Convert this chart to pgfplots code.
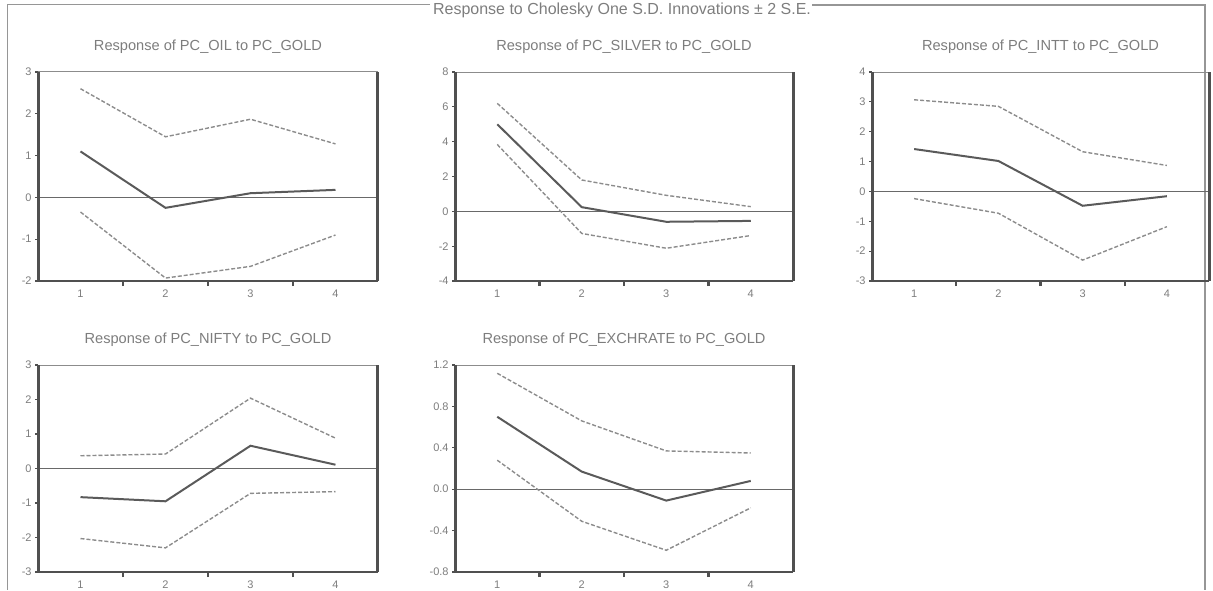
\documentclass[border=0pt]{standalone}
\usepackage{fontspec}
\setmainfont{Liberation Sans}
\usepackage{pgfplots}
\pgfplotsset{compat=1.18}

\definecolor{txtgray}{RGB}{125,125,125}
\definecolor{spine}{RGB}{80,80,80}
\definecolor{topline}{RGB}{140,140,140}
\definecolor{irfline}{RGB}{90,90,90}
\definecolor{bandline}{RGB}{140,140,140}
\definecolor{zeroline}{RGB}{105,105,105}
\definecolor{framegray}{RGB}{150,150,150}

\pgfplotsset{
  irf/.style={
    scale only axis,
    xmin=0.5, xmax=4.5,
    xtick={1,2,3,4},
    minor xtick={1.5,2.5,3.5},
    axis line style={draw=none},
    ytick pos=left, xtick pos=bottom,
    tick align=outside,
    major tick length=1.5pt,
    minor tick length=2.5pt,
    major x tick style={draw=none},
    major y tick style={draw=spine, line width=0.6pt},
    minor x tick style={draw=spine, line width=1.2pt},
    tick label style={font=\fontsize{5.5}{6.5}\selectfont, text=txtgray},
    xticklabel style={anchor=center, yshift=-5pt},
    yticklabel style={anchor=east, inner sep=0pt, xshift=-1.5pt},
    /pgf/number format/assume math mode=true,
    title style={font=\fontsize{7.3}{8.5}\selectfont, text=txtgray,
                 at={(0.5,1)}, anchor=center, yshift=6.5pt},
    after end axis/.code={
      \draw[topline, line width=0.5pt] (rel axis cs:0,1) -- (rel axis cs:1,1);
      \draw[spine, line width=1pt] (rel axis cs:0,0) -- (rel axis cs:1,0);
      \draw[spine, line width=1.5pt] (rel axis cs:0,0) -- (rel axis cs:0,1);
      \draw[spine, line width=1.5pt] (rel axis cs:1,0) -- (rel axis cs:1,1);
    },
  },
  resp/.style={irfline, line width=1pt, mark=none},
  band/.style={bandline, line width=0.7pt, dash pattern=on 2pt off 1pt, mark=none},
  zero/.style={zeroline, line width=0.5pt, mark=none},
}

\begin{document}
\begin{tikzpicture}
\useasboundingbox (0,0) rectangle (606.5pt,295pt);

% outer frame with the heading set into its top edge
\draw[framegray, line width=0.5pt] (215pt,292.5pt) -- (3.5pt,292.5pt) -- (3.5pt,0pt);
\draw[framegray, line width=0.6pt] (406pt,292.5pt) -- (602.5pt,292.5pt) -- (602.5pt,0pt);
\node[font=\fontsize{8}{9.5}\selectfont, text=txtgray] at (311pt,290pt)
  {Response to Cholesky One S.D. Innovations ± 2 S.E.};

% PC_OIL
\begin{axis}[irf, at={(19pt,154.5pt)}, anchor=south west,
  width=170pt, height=104.5pt, ymin=-2, ymax=3, ytick={-2,-1,0,1,2,3},
  title={Response of PC\_OIL to PC\_GOLD}]
  \addplot[zero] coordinates {(0.5,0) (4.5,0)};
  \addplot[band] coordinates {(1,2.60) (2,1.45) (3,1.87) (4,1.28)};
  \addplot[band] coordinates {(1,-0.35) (2,-1.93) (3,-1.65) (4,-0.90)};
  \addplot[resp] coordinates {(1,1.10) (2,-0.25) (3,0.10) (4,0.18)};
\end{axis}

% PC_SILVER
\begin{axis}[irf, at={(227.5pt,154.5pt)}, anchor=south west,
  width=169pt, height=104.5pt, ymin=-4, ymax=8, ytick={-4,-2,0,2,4,6,8},
  title={Response of PC\_SILVER to PC\_GOLD}]
  \addplot[zero] coordinates {(0.5,0) (4.5,0)};
  \addplot[band] coordinates {(1,6.20) (2,1.80) (3,0.92) (4,0.27)};
  \addplot[band] coordinates {(1,3.84) (2,-1.27) (3,-2.12) (4,-1.39)};
  \addplot[resp] coordinates {(1,5.00) (2,0.24) (3,-0.60) (4,-0.55)};
\end{axis}

% PC_INTT
\begin{axis}[irf, at={(436pt,154.5pt)}, anchor=south west,
  width=168.5pt, height=104.5pt, ymin=-3, ymax=4, ytick={-3,-2,-1,0,1,2,3,4},
  title={Response of PC\_INTT to PC\_GOLD}]
  \addplot[zero] coordinates {(0.5,0) (4.5,0)};
  \addplot[band] coordinates {(1,3.07) (2,2.85) (3,1.33) (4,0.87)};
  \addplot[band] coordinates {(1,-0.24) (2,-0.73) (3,-2.30) (4,-1.18)};
  \addplot[resp] coordinates {(1,1.42) (2,1.02) (3,-0.48) (4,-0.16)};
\end{axis}

% PC_NIFTY
\begin{axis}[irf, at={(19pt,9pt)}, anchor=south west,
  width=170pt, height=103.5pt, ymin=-3, ymax=3, ytick={-3,-2,-1,0,1,2,3},
  title={Response of PC\_NIFTY to PC\_GOLD}]
  \addplot[zero] coordinates {(0.5,0) (4.5,0)};
  \addplot[band] coordinates {(1,0.37) (2,0.42) (3,2.04) (4,0.88)};
  \addplot[band] coordinates {(1,-2.03) (2,-2.30) (3,-0.72) (4,-0.67)};
  \addplot[resp] coordinates {(1,-0.83) (2,-0.95) (3,0.66) (4,0.11)};
\end{axis}

% PC_EXCHRATE
\begin{axis}[irf, at={(227.5pt,9pt)}, anchor=south west,
  width=169pt, height=103.5pt, ymin=-0.8, ymax=1.2,
  ytick={-0.8,-0.4,0,0.4,0.8,1.2},
  yticklabel style={/pgf/number format/.cd, fixed, fixed zerofill, precision=1},
  title={Response of PC\_EXCHRATE to PC\_GOLD}]
  \addplot[zero] coordinates {(0.5,0) (4.5,0)};
  \addplot[band] coordinates {(1,1.12) (2,0.66) (3,0.37) (4,0.35)};
  \addplot[band] coordinates {(1,0.28) (2,-0.31) (3,-0.59) (4,-0.18)};
  \addplot[resp] coordinates {(1,0.70) (2,0.17) (3,-0.11) (4,0.08)};
\end{axis}
\end{tikzpicture}
\end{document}
